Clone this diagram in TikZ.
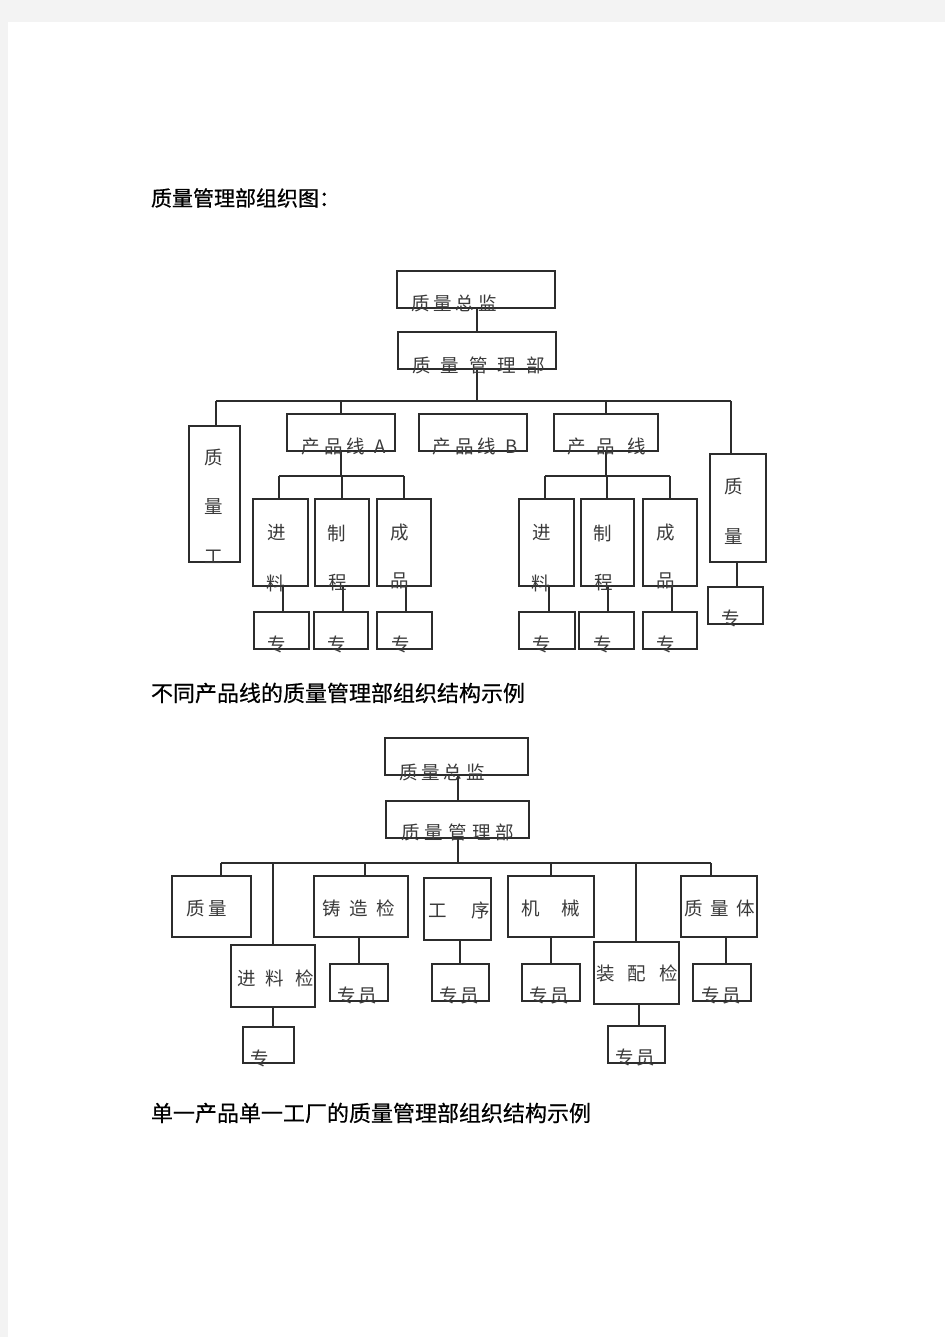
\documentclass[tikz,border=0pt]{standalone}
\usepackage{fontspec}
\newfontfamily\cjk{Noto Sans CJK SC}
\newfontfamily\cjkcap{Noto Sans CJK SC}[FakeBold=0.6]
\definecolor{pagegray}{HTML}{F3F3F3}
\definecolor{linec}{HTML}{2C2C2C}
\definecolor{boxtext}{HTML}{3A3A3A}
\newcommand\g[1]{\hspace{#1pt}}
\newcommand\bxx[5]{%
  \pgfmathsetmacro\bw{#4-#2}\pgfmathsetmacro\bh{#5-#3}%
  \node[bx,minimum width=\bw pt,minimum height=\bh pt,anchor=north west] (#1) at (#2,#3) {};}
\tikzset{
  bx/.style={draw=linec,line width=1.6pt,inner sep=0pt,outer sep=0pt,fill=none},
  ln/.style={draw=linec,line width=1.6pt},
  tx/.style={inner sep=0pt,outer sep=0pt,anchor=west,text=boxtext,font=\cjk\fontsize{18.5}{18.5}\selectfont},
  tc/.style={tx,anchor=center},
  captxt/.style={inner sep=0pt,outer sep=0pt,anchor=west,text=black,font=\cjkcap\fontsize{22}{22}\selectfont}
}
\begin{document}
\begin{tikzpicture}[x=1pt,y=-1pt]
\useasboundingbox (0,0) rectangle (945,1337);
\fill[pagegray] (0,0) rectangle (945,1337);
\fill[white] (8,22) rectangle (945,1337);

% ---------- captions ----------
\node[captxt,font=\cjkcap\fontsize{21}{21}\selectfont] (title) at (151,198) {质量管理部组织图：};
\node[captxt] (cap1) at (151,693) {不同产品线的质量管理部组织结构示例};
\node[captxt] (cap2) at (151,1113) {单一产品单一工厂的质量管理部组织结构示例};

% ---------- top diagram ----------
\bxx{zj1}{397}{271}{555}{308}
\bxx{glb1}{398}{332}{556}{369}
\bxx{zlg}{189}{426}{240}{562}
\bxx{pa}{287}{414}{395}{451}
\bxx{pb}{419}{414}{527}{451}
\bxx{pc}{554}{414}{658}{451}
\bxx{zlr}{710}{454}{766}{562}
\bxx{zr}{708}{587}{763}{624}
% group A
\bxx{ja}{253}{499}{308}{586}
\bxx{ca}{315}{499}{369}{586}
\bxx{ea}{377}{499}{431}{586}
\bxx{za1}{254}{612}{309}{649}
\bxx{za2}{314}{612}{368}{649}
\bxx{za3}{377}{612}{432}{649}
% group C
\bxx{jc}{519}{499}{574}{586}
\bxx{cc}{581}{499}{634}{586}
\bxx{ec}{643}{499}{697}{586}
\bxx{zc1}{519}{612}{575}{649}
\bxx{zc2}{579}{612}{634}{649}
\bxx{zc3}{643}{612}{697}{649}

\coordinate (busL) at (216,401);
\coordinate (busR) at (731,401);
\coordinate (subAL) at (279,476);
\coordinate (subAR) at (404,476);
\coordinate (subCL) at (545,476);
\coordinate (subCR) at (670,476);

\draw[ln] ([xshift=1pt]zj1.south) -- ([xshift=1pt]zj1.south |- glb1.north);
\draw[ln] (glb1.south) -- (glb1.south |- busL);
\draw[ln] (busL) -- (busR);
\draw[ln] (busL) -- (busL |- zlg.north);
\draw[ln] (pa.north) -- (pa.north |- busL);
\draw[ln] (pc.north) -- (pc.north |- busL);
\draw[ln] (busR) -- (busR |- zlr.north);
\draw[ln] ([xshift=-1pt]zlr.south) -- ([xshift=-1pt]zlr.south |- zr.north);
% group A
\draw[ln] (pa.south) -- (pa.south |- subAL);
\draw[ln] (subAL) -- (subAR);
\draw[ln] (subAL) -- (subAL |- ja.north);
\draw[ln] (ca.north) -- (ca.north |- subAL);
\draw[ln] (subAR) -- (subAR |- ea.north);
\draw[ln] ([xshift=2.5pt]ja.south) -- ([xshift=2.5pt]ja.south |- za1.north);
\draw[ln] ([xshift=1pt]ca.south) -- ([xshift=1pt]ca.south |- za2.north);
\draw[ln] ([xshift=2pt]ea.south) -- ([xshift=2pt]ea.south |- za3.north);
% group C
\draw[ln] (pc.south) -- (pc.south |- subCL);
\draw[ln] (subCL) -- (subCR);
\draw[ln] (subCL) -- (subCL |- jc.north);
\draw[ln] ([xshift=-0.5pt]cc.north) -- ([xshift=-0.5pt]cc.north |- subCL);
\draw[ln] (subCR) -- (subCR |- ec.north);
\draw[ln] ([xshift=2.5pt]jc.south) -- ([xshift=2.5pt]jc.south |- zc1.north);
\draw[ln] ([xshift=0.5pt]cc.south) -- ([xshift=0.5pt]cc.south |- zc2.north);
\draw[ln] ([xshift=2pt]ec.south) -- ([xshift=2pt]ec.south |- zc3.north);

% texts top
\node[tx] (t-zj1) at (411,303) {质\g4量\g4总\g4监};
\node[tx] (t-glb1) at (412,365) {质\g{10}量\g{10}管\g{10}理\g{10}部};
\node[tx] (t-pa) at (301,447) {产\g{4.5}品\g{4.5}线\g{9}A};
\node[tx] (t-pb) at (432,447) {产\g{4.5}品\g{4.5}线\g{9}B};
\node[tx] (t-pc) at (567,447) {产\g{11.5}品\g{11.5}线};
\node[tc] (t-zlg1) at (214,458) {质};
\node[tc] (t-zlg2) at (214,507) {量};
\node[tc] (t-zlg3) at (214,557) {工};
\node[tc] (t-zlr1) at (734,487) {质};
\node[tc] (t-zlr2) at (734,537) {量};
\node[tc] (t-zr) at (731,618) {专};
\node[tc] (t-ja1) at (277,533) {进};
\node[tc] (t-ja2) at (276,583) {料};
\node[tc] (t-ca1) at (337,533) {制};
\node[tc] (t-ca2) at (338,583) {程};
\node[tc] (t-ea1) at (400,533) {成};
\node[tc] (t-ea2) at (400,581) {品};
\node[tc] (t-za1) at (277,644) {专};
\node[tc] (t-za2) at (337,644) {专};
\node[tc] (t-za3) at (401,644) {专};
\node[tc] (t-jc1) at (542,533) {进};
\node[tc] (t-jc2) at (541,583) {料};
\node[tc] (t-cc1) at (603,533) {制};
\node[tc] (t-cc2) at (604,583) {程};
\node[tc] (t-ec1) at (666,533) {成};
\node[tc] (t-ec2) at (666,581) {品};
\node[tc] (t-zc1) at (542,644) {专};
\node[tc] (t-zc2) at (603,644) {专};
\node[tc] (t-zc3) at (666,644) {专};

% ---------- bottom diagram ----------
\bxx{zj2}{385}{738}{528}{775}
\bxx{glb2}{386}{801}{529}{838}
\bxx{zl}{172}{876}{251}{937}
\bxx{jlj}{231}{945}{315}{1007}
\bxx{zzj}{314}{876}{408}{937}
\bxx{gx}{424}{878}{491}{940}
\bxx{jx}{508}{876}{594}{937}
\bxx{zpj}{594}{942}{679}{1004}
\bxx{zlt}{681}{876}{757}{937}
\bxx{y1}{330}{964}{388}{1001}
\bxx{y2}{432}{964}{489}{1001}
\bxx{y3}{522}{964}{580}{1001}
\bxx{y4}{693}{964}{751}{1001}
\bxx{y5}{608}{1026}{665}{1063}
\bxx{y6}{243}{1027}{294}{1063}

\coordinate (bus2L) at (221,863);
\coordinate (bus2R) at (711,863);
\draw[ln] ([xshift=1.5pt]zj2.south) -- ([xshift=1.5pt]zj2.south |- glb2.north);
\draw[ln] ([xshift=0.5pt]glb2.south) -- ([xshift=0.5pt]glb2.south |- bus2L);
\draw[ln] (bus2L) -- (bus2R);
\draw[ln] (bus2L) -- (bus2L |- zl.north);
\draw[ln] (jlj.north) -- (jlj.north |- bus2L);
\draw[ln] ([xshift=4pt]zzj.north) -- ([xshift=4pt]zzj.north |- bus2L);
\draw[ln] (jx.north) -- (jx.north |- bus2L);
\draw[ln] ([xshift=-0.5pt]zpj.north) -- ([xshift=-0.5pt]zpj.north |- bus2L);
\draw[ln] (bus2R) -- (bus2R |- zlt.north);
\draw[ln] (y1.north) -- (y1.north |- zzj.south);
\draw[ln] ([xshift=-0.5pt]y2.north) -- ([xshift=-0.5pt]y2.north |- gx.south);
\draw[ln] (y3.north) -- (y3.north |- jx.south);
\draw[ln] ([xshift=4pt]y4.north) -- ([xshift=4pt]y4.north |- zlt.south);
\draw[ln] ([xshift=2.5pt]zpj.south) -- ([xshift=2.5pt]zpj.south |- y5.north);
\draw[ln] (jlj.south) -- (jlj.south |- y6.north);

% texts bottom
\node[tx] (t-zj2) at (399,772) {质\g{4}量\g{4}总\g{4}监};
\node[tx] (t-glb2) at (401,832) {质\g{5.2}量\g{5.2}管\g{5.2}理\g{5.2}部};
\node[tx] (t-zl) at (186,908) {质\g4量};
\node[tx] (t-zzj) at (322,908) {铸\g9造\g9检};
\node[tx] (t-gx) at (428,910) {工\g{25}序};
\node[tx] (t-jx) at (521,908) {机\g{22}械};
\node[tx] (t-zlt) at (684,908) {质\g8量\g8体};
\node[tx] (t-zpj) at (596,973) {装\g{13}配\g{13}检};
\node[tx] (t-jlj) at (237,978) {进\g{10.5}料\g{10.5}检};
\node[tx] (t-y1) at (337,995) {专\g3员};
\node[tx] (t-y2) at (439,995) {专\g3员};
\node[tx] (t-y3) at (529,995) {专\g3员};
\node[tx] (t-y4) at (701,995) {专\g3员};
\node[tx] (t-y5) at (615,1057) {专\g3员};
\node[tc] (t-y6) at (260,1058) {专};
\end{tikzpicture}
\end{document}
